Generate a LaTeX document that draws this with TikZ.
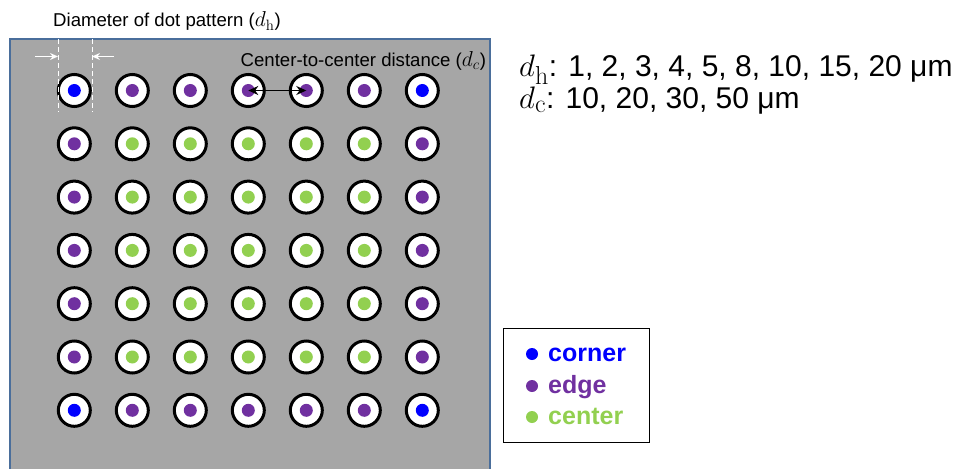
\documentclass[tikz,border=0pt]{standalone}
\usepackage[no-math]{fontspec}
\usepackage{graphicx}
\setmainfont{Liberation Sans}
\usetikzlibrary{arrows.meta}
\definecolor{bgGray}{RGB}{166,166,166}
\definecolor{frameBlue}{RGB}{74,110,155}
\definecolor{cornerBlue}{RGB}{0,0,255}
\definecolor{edgePurple}{RGB}{112,48,160}
\definecolor{centerGreen}{RGB}{146,208,80}
\newcommand{\mymathbig}[1]{\scalebox{1.25}{\(#1\)}}
\tikzset{
  ring/.style={circle, draw=black, line width=3pt, fill=white, minimum size=32pt, inner sep=0pt},
  dotc/.style={circle, fill=#1, minimum size=13pt, inner sep=0pt},
  smalltxt/.style={font=\fontsize{18.6}{21}\selectfont, inner sep=0pt},
  bigtxt/.style={font=\fontsize{30}{31}\selectfont, inner sep=0pt},
  legtxt/.style={font=\fontsize{25}{28}\selectfont\bfseries, inner sep=0pt},
  whitearrow/.style={white, line width=1.2pt, -{Stealth[length=8pt,width=7pt]}},
  guide/.style={white, line width=1pt, dash pattern=on 5pt off 3pt},
}
\begin{document}
\begin{tikzpicture}[x=1pt,y=-1pt]
\useasboundingbox (0,0) rectangle (965,468);
\clip (0,0) rectangle (965,468);
% substrate
\fill[bgGray] (10,39) rectangle (490,480);
\draw[frameBlue, line width=2.8pt] (10,480) -- (10,39) -- (490,39) -- (490,480);
% dots
\foreach \i in {0,...,6}{
  \foreach \j in {0,...,6}{
    \pgfmathsetmacro{\cx}{74.3+58*\i}
    \pgfmathsetmacro{\cy}{90.5+53.3*\j}
    \pgfmathtruncatemacro{\ed}{(\i==0)+(\i==6)+(\j==0)+(\j==6)}
    \ifcase\ed
      \def\dc{centerGreen}
    \or
      \def\dc{edgePurple}
    \else
      \def\dc{cornerBlue}
    \fi
    \node[ring] (r-\i-\j) at (\cx,\cy) {};
    \node[dotc=\dc] (d-\i-\j) at (\cx,\cy) {};
  }
}
% diameter guides
\coordinate (gl1) at (58,39);
\coordinate (gl2) at (58,112);
\coordinate (gr1) at (92,39);
\coordinate (gr2) at (92,112);
\draw[guide] (gl1) -- (gl2);
\draw[guide] (gr1) -- (gr2);
\coordinate (al) at (35,56.5);
\coordinate (alt) at (58,56.5);
\coordinate (ar) at (114,56.5);
\coordinate (art) at (92,56.5);
\draw[whitearrow] (al) -- (alt);
\draw[whitearrow] (ar) -- (art);
% center-to-center arrow
\draw[black, line width=1.5pt, {Stealth[length=10pt,width=9pt]}-{Stealth[length=10pt,width=9pt]}] (d-3-0.center) -- (d-4-0.center);
% labels
\node[smalltxt, anchor=base west] (tdh) at (53,27) {Diameter of dot pattern (\mymathbig{d_\mathrm{h}})};
\node[smalltxt, anchor=base west] (tdc) at (240.5,66.5) {Center-to-center distance (\mymathbig{d_c})};
\node[bigtxt, anchor=base west] (l1) at (519,77) {\mymathbig{d_\mathrm{h}}: 1, 2, 3, 4, 5, 8, 10, 15, 20 μm};
\node[bigtxt, anchor=base west] (l2) at (519,108) {\mymathbig{d_\mathrm{c}}: 10, 20, 30, 50 μm};
% legend
\node[draw=black, line width=1.3pt, minimum width=146pt, minimum height=114pt, anchor=north west, inner sep=0pt] (leg) at (503,328) {};
\node[dotc=cornerBlue, minimum size=12pt] (lg1) at (532,354) {};
\node[dotc=edgePurple, minimum size=12pt] (lg2) at (532,386) {};
\node[dotc=centerGreen, minimum size=12pt] (lg3) at (532,417) {};
\node[legtxt, text=cornerBlue, anchor=base west] (lt1) at (548,361) {corner};
\node[legtxt, text=edgePurple, anchor=base west] (lt2) at (548,393) {edge};
\node[legtxt, text=centerGreen, anchor=base west] (lt3) at (548,424) {center};
\end{tikzpicture}
\end{document}
